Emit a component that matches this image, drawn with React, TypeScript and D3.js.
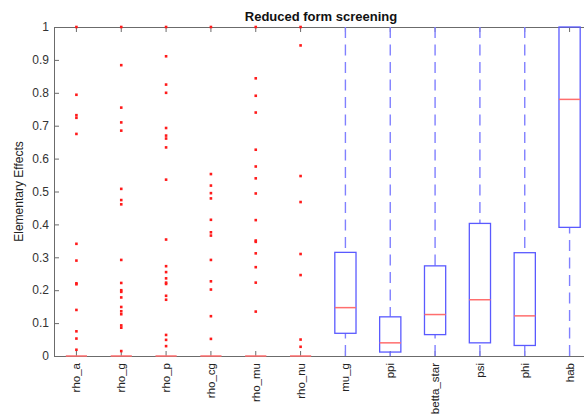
import React from "react";
import * as d3 from "d3";

const categories = ["rho_a", "rho_g", "rho_p", "rho_cg", "rho_mu", "rho_nu", "mu_g", "ppi", "betta_star", "psi", "phi", "hab"];
const q1Values = [0, 0, 0, 0, 0, 0, 0.069, 0.012, 0.065, 0.040, 0.032, 0.391];
const medianValues = [0, 0, 0, 0, 0, 0, 0.147, 0.040, 0.126, 0.171, 0.122, 0.780];
const q3Values = [0, 0, 0, 0, 0, 0, 0.315, 0.119, 0.274, 0.403, 0.314, 1.0];
const whiskerLow = [0, 0, 0, 0, 0, 0, 0, 0, 0, 0, 0, 0];
const whiskerHigh = [0, 0, 0, 0, 0, 0, 1, 1, 1, 1, 1, 1];

const outliersRhoA = [1, 0.794, 0.732, 0.724, 0.675, 0.341, 0.290, 0.221, 0.218, 0.140, 0.075, 0.053, 0.019];
const outliersRhoG = [1, 0.884, 0.755, 0.710, 0.685, 0.508, 0.474, 0.461, 0.292, 0.222, 0.200, 0.195, 0.178, 0.149, 0.136, 0.127, 0.093, 0.086, 0.015];
const outliersRhoP = [1, 0.911, 0.825, 0.800, 0.693, 0.670, 0.661, 0.634, 0.536, 0.354, 0.273, 0.255, 0.236, 0.223, 0.219, 0.183, 0.171, 0.064, 0.049, 0.030];
const outliersRhoCg = [1, 0.553, 0.518, 0.495, 0.479, 0.414, 0.376, 0.366, 0.292, 0.227, 0.202, 0.121, 0.052];
const outliersRhoMu = [1, 0.844, 0.791, 0.740, 0.627, 0.576, 0.540, 0.494, 0.413, 0.351, 0.347, 0.312, 0.270, 0.223, 0.135];
const outliersRhoNu = [1, 0.944, 0.547, 0.468, 0.310, 0.246, 0.050, 0.028];
const outliers = [outliersRhoA, outliersRhoG, outliersRhoP, outliersRhoCg, outliersRhoMu, outliersRhoNu, [], [], [], [], [], []];

const yTicks = [0, 0.1, 0.2, 0.3, 0.4, 0.5, 0.6, 0.7, 0.8, 0.9, 1];

const W = 584;
const H = 415;
const left = 54;
const right = 592;
const top = 27;
const bottom = 356;
const FONT = "'Liberation Sans', Arial, Helvetica, sans-serif";
const AXIS = "#6b6b6b";

export default function App() {
  const x = d3.scaleLinear().domain([0.5, categories.length + 0.5]).range([left, right]);
  const y = d3.scaleLinear().domain([0, 1]).range([bottom, top]);
  const halfW = 10.6;
  const fmt = (v: number) => (v === 0 || v === 1 ? String(v) : d3.format(".1f")(v));

  return (
    <svg width={W} height={H} style={{ position: "absolute", left: 0, top: 0, background: "#fff" }} fontFamily={FONT}>
      <rect x={0} y={0} width={W} height={H} fill="#fff" />
      {/* axes box */}
      <g stroke={AXIS} strokeWidth={1} fill="none">
        <line x1={left} x2={right} y1={bottom + 0.5} y2={bottom + 0.5} />
        <line x1={left} x2={right} y1={top + 0.5} y2={top + 0.5} />
        <line x1={left + 0.5} x2={left + 0.5} y1={top} y2={bottom} />
        <line x1={right - 0.5} x2={right - 0.5} y1={top} y2={bottom} />
        {yTicks.map((t) => (
          <line key={"yt" + t} x1={left} x2={left + 5} y1={y(t) + 0.5} y2={y(t) + 0.5} />
        ))}
        {categories.map((c, i) => (
          <g key={"xt" + c}>
            <line x1={x(i + 1)} x2={x(i + 1)} y1={bottom} y2={bottom - 5} />
            <line x1={x(i + 1)} x2={x(i + 1)} y1={top} y2={top + 5} />
          </g>
        ))}
      </g>
      {/* y tick labels */}
      {yTicks.map((t) => (
        <text key={"yl" + t} x={49} y={y(t)} dy="0.35em" textAnchor="end" fontSize={12} fill="#333">
          {fmt(t)}
        </text>
      ))}
      {/* x tick labels */}
      {categories.map((c, i) => (
        <text
          key={"xl" + c}
          transform={`translate(${x(i + 1)},${bottom + 7}) rotate(-90)`}
          dy="0.35em"
          textAnchor="end"
          fontSize={11.5}
          fill="#222"
        >
          {c}
        </text>
      ))}
      {/* boxes */}
      {categories.map((c, i) => {
        const cx = x(i + 1);
        return (
          <g key={"box" + c}>
            {whiskerHigh[i] > q3Values[i] && (
              <line x1={cx} x2={cx} y1={y(whiskerHigh[i])} y2={y(q3Values[i])} stroke="#8080ff" strokeWidth={1.4} strokeDasharray="11,6.5" />
            )}
            {q1Values[i] > whiskerLow[i] && (
              <line x1={cx} x2={cx} y1={y(whiskerLow[i])} y2={y(q1Values[i])} stroke="#8080ff" strokeWidth={1.4} strokeDasharray="11,6.5" />
            )}
            <rect
              x={cx - halfW}
              y={y(q3Values[i])}
              width={halfW * 2}
              height={Math.max(0, y(q1Values[i]) - y(q3Values[i]))}
              fill="none"
              stroke="#5a5aff"
              strokeWidth={1.3}
            />
            <line x1={cx - halfW} x2={cx + halfW} y1={y(medianValues[i])} y2={y(medianValues[i])} stroke="#ff6e6e" strokeWidth={1.5} />
            {outliers[i].map((v, k) => (
              <rect key={k} x={cx - 1.3} y={y(v) - 1.3} width={2.6} height={2.6} fill="#ff1a1a" />
            ))}
          </g>
        );
      })}
      {/* title */}
      <text x={(left + right) / 2 - 2} y={21} textAnchor="middle" fontSize={13} fontWeight="bold" fill="#111">
        Reduced form screening
      </text>
      {/* y label */}
      <text transform={`translate(23,${(top + bottom) / 2}) rotate(-90)`} textAnchor="middle" fontSize={12} fill="#222">
        Elementary Effects
      </text>
    </svg>
  );
}
